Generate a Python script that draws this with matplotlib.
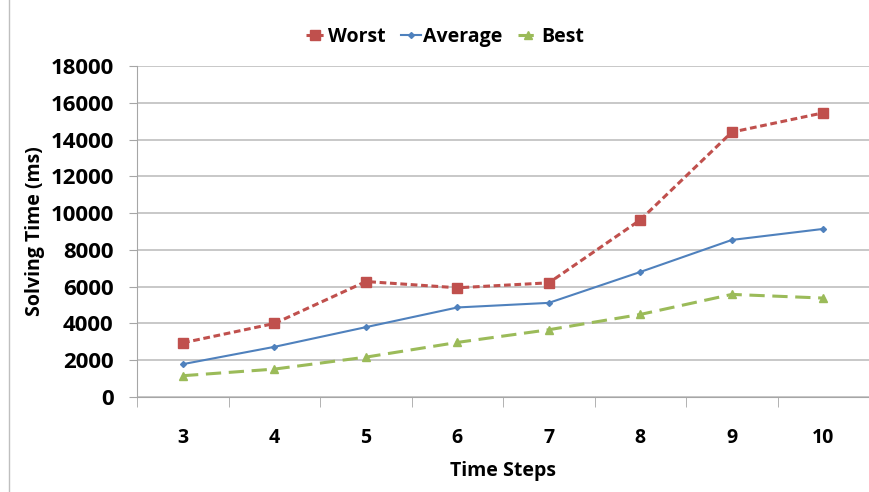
import matplotlib.pyplot as plt
from matplotlib.lines import Line2D

steps = [3, 4, 5, 6, 7, 8, 9, 10]
worst = [2950, 4000, 6280, 5940, 6210, 9630, 14400, 15450]
average = [1790, 2730, 3800, 4870, 5120, 6800, 8540, 9140]
best = [1160, 1520, 2170, 2970, 3660, 4490, 5580, 5380]

plt.rcParams['font.family'] = ['Open Sans', 'DejaVu Sans']
plt.rcParams['font.weight'] = 'bold'

fig = plt.figure(figsize=(8.69, 4.92), dpi=100)
ax = fig.add_axes([0.158, 0.193, 0.842, 0.673])

ax.plot(steps, worst, color='#C0504D', linestyle=(0, (2.2, 1.2)), linewidth=2.2,
        marker='s', markersize=6.5, label='Worst')
ax.plot(steps, average, color='#4F81BD', linestyle='-', linewidth=1.5,
        marker='D', markersize=3, label='Average')
ax.plot(steps, best, color='#9BBB59', linestyle=(0, (5, 2.5)), linewidth=2.2,
        marker='^', markersize=6, label='Best')

ax.set_xlim(2.5, 10.5)
ax.set_ylim(0, 18000)
ax.set_yticks(range(0, 18001, 2000))
ax.set_xticks(steps)
ax.set_xticks([s + 0.5 for s in [2] + steps], minor=True)
ax.tick_params(axis='x', which='major', length=0, pad=22, labelsize=14)
ax.tick_params(axis='x', which='minor', length=7, color='#A6A6A6', direction='out')
ax.tick_params(axis='y', length=6, color='#A6A6A6', labelsize=16, pad=11)
for lab in ax.get_xticklabels() + ax.get_yticklabels():
    lab.set_fontweight('bold')

ax.grid(axis='y', color='#BFBFBF', linewidth=1.2)
ax.set_axisbelow(True)
for side in ['top', 'right']:
    ax.spines[side].set_visible(False)
ax.spines['left'].set_color('#A6A6A6')
ax.spines['bottom'].set_color('#A6A6A6')

ax.set_xlabel('Time Steps', fontsize=14, fontweight='bold', labelpad=10)
ax.set_ylabel('Solving Time (ms)', fontsize=14, fontweight='bold', labelpad=4)

ax.legend(loc='lower center', bbox_to_anchor=(0.42, 1.005), ncol=3, frameon=False,
          handlelength=1.0, handletextpad=0.15, columnspacing=0.8,
          prop={'weight': 'bold', 'size': 14})

fig.add_artist(Line2D([9 / 869, 9 / 869], [0, 1], color='#BFBFBF', linewidth=1))

fig.savefig('out.png', dpi=100)
